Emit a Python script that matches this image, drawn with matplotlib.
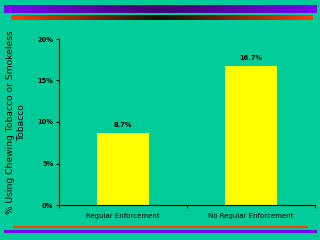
import matplotlib
matplotlib.use("Agg")
import matplotlib.pyplot as plt
import numpy as np
from matplotlib.colors import LinearSegmentedColormap

categories = ["Regular Enforcement", "No Regular Enforcement"]
values = [8.7, 16.7]
value_labels = ["8.7%", "16.7%"]
yticks = [0, 5, 10, 15, 20]
ytick_labels = ["0%", "5%", "10%", "15%", "20%"]
ylabel = "% Using Chewing Tobacco or Smokeless\nTobacco"

BG = "#00CC99"
BAR = "#FFFF00"

fig = plt.figure(figsize=(3.2, 2.4), dpi=100, facecolor=BG)

# decoration overlay
deco = fig.add_axes([0, 0, 1, 1], zorder=0)
deco.axis("off")
deco.set_facecolor(BG)

grad = np.abs(np.linspace(-1, 1, 400))[None, :]
purple_cmap = LinearSegmentedColormap.from_list("p", ["#3E0070", "#7A00F0"])
orange_cmap = LinearSegmentedColormap.from_list("o", ["#101000", "#FF4000"])
deco.imshow(grad, cmap=purple_cmap, extent=(4, 317, 13, 5), aspect="auto")
deco.imshow(grad, cmap=orange_cmap, extent=(11, 313, 20, 15.7), aspect="auto")
deco.add_patch(plt.Rectangle((13, 225.5), 295, 2.5, color="#FF4000", lw=0))
deco.add_patch(plt.Rectangle((4, 230), 313, 3, color="#7A00F0", lw=0))
deco.set_xlim(0, 320)
deco.set_ylim(240, 0)

ax = fig.add_axes([59/320, 1 - 205/240, 256/320, 166/240], zorder=1)
ax.patch.set_alpha(0)
x = np.arange(len(categories))
ax.bar(x, values, width=0.4, color=BAR, edgecolor="none")
for xi, v, lab in zip(x, values, value_labels):
    ax.text(xi, v + 0.6, lab, ha="center", va="bottom", fontsize=4.8,
            fontweight="bold", color="black")

ax.set_xlim(-0.5, 1.5)
ax.set_ylim(0, 20)
ax.set_yticks(yticks)
ax.set_yticklabels(ytick_labels, fontsize=4.8, fontweight="bold")
ax.set_xticks(x)
ax.set_xticklabels(categories, fontsize=5)
ax.tick_params(axis="x", length=0, pad=5.5)
ax.set_xticks([-0.5, 0.5, 1.5], minor=True)
ax.tick_params(axis="x", which="minor", length=2, width=0.8, direction="out")
ax.tick_params(axis="y", length=2, width=0.8, direction="out", pad=2)
for s in ["top", "right"]:
    ax.spines[s].set_visible(False)
for s in ["left", "bottom"]:
    ax.spines[s].set_linewidth(0.8)
ax.set_ylabel(ylabel, fontsize=6.6, linespacing=1.4, labelpad=8)

fig.savefig("out.png", dpi=100, facecolor=BG)
